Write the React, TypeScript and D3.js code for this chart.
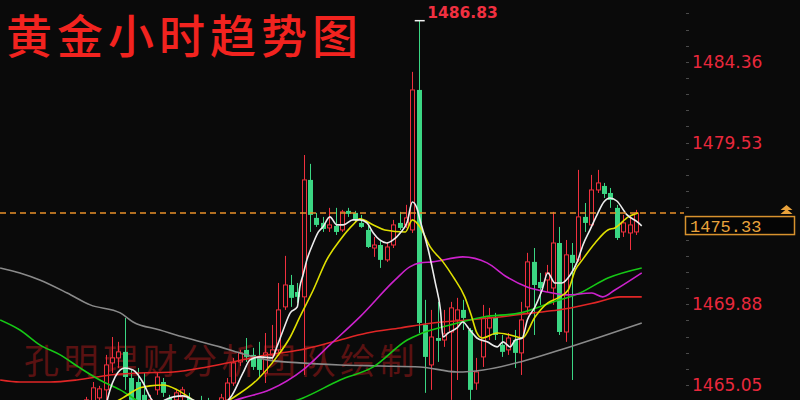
import React from 'react';
import * as d3 from 'd3';

const W = 800;
const H = 400;

const title = '黄金小时趋势图';
const watermark = '孔明理财分析团队绘制';
const axisTicks = [1484.36, 1479.53, 1469.88, 1465.05];
const lastPrice = 1475.33;
const highestPrice = 1486.83;
const highestIndex = 52;

const opens = [
  1463.56, 1463.86, 1464.28, 1464.76, 1466.37, 1466.67, 1467.03, 1465.47, 1465.23, 1464.46,
  1463.56, 1464.76, 1465.23, 1464.28, 1464.16, 1464.34, 1464.28, 1463.44, 1464.04, 1463.86,
  1463.26, 1463.68, 1464.16, 1465.17, 1466.43, 1467.15, 1466.85, 1466.73, 1465.77, 1466.85,
  1467.15, 1469.72, 1471.03, 1470.61, 1470.32, 1477.31, 1475.04, 1474.74, 1474.44, 1474.56,
  1474.32, 1475.46, 1475.34, 1474.74, 1474.32, 1473.24, 1473.42, 1472.53, 1473.42, 1474.74,
  1474.62, 1474.32, 1482.69, 1468.64, 1466.25, 1467.86, 1467.74, 1468.22, 1468.94, 1469.54,
  1468.34, 1465.17, 1466.73, 1468.46, 1469.06, 1467.45, 1467.15, 1467.74, 1466.97, 1469.72,
  1472.41, 1471.21, 1471.33, 1470.85, 1473.54, 1468.22, 1472.83, 1472.53, 1475.10, 1474.62,
  1476.71, 1476.95, 1476.53, 1475.64, 1474.20, 1474.14, 1474.20,
];
const closes = [
  1464.16, 1464.88, 1464.82, 1466.25, 1466.67, 1467.03, 1465.53, 1464.16, 1464.04, 1463.56,
  1464.16, 1465.53, 1464.58, 1463.68, 1464.58, 1464.76, 1463.68, 1463.92, 1463.56, 1463.26,
  1463.86, 1464.28, 1465.17, 1466.37, 1466.97, 1466.73, 1466.13, 1465.95, 1466.97, 1467.15,
  1469.54, 1471.03, 1470.26, 1470.32, 1477.31, 1475.22, 1474.62, 1474.38, 1474.62, 1474.20,
  1475.40, 1475.28, 1474.92, 1474.50, 1473.30, 1473.42, 1472.53, 1473.30, 1474.62, 1474.44,
  1475.04, 1482.69, 1468.76, 1466.73, 1467.92, 1467.69, 1468.10, 1469.66, 1469.54, 1469.06,
  1464.76, 1465.83, 1469.06, 1469.06, 1468.04, 1467.03, 1467.86, 1466.97, 1468.94, 1472.41,
  1471.03, 1470.85, 1471.75, 1473.54, 1468.22, 1472.83, 1472.35, 1475.10, 1474.74, 1476.71,
  1477.13, 1476.47, 1476.11, 1473.84, 1474.74, 1474.62, 1475.33,
];
const highs = [
  1464.34, 1465.23, 1465.00, 1466.85, 1467.92, 1467.63, 1469.06, 1465.95, 1466.07, 1465.77,
  1464.46, 1465.83, 1465.47, 1464.46, 1464.76, 1464.94, 1464.58, 1464.10, 1464.40, 1464.28,
  1464.10, 1464.52, 1465.47, 1466.67, 1467.15, 1467.86, 1467.27, 1467.63, 1468.16, 1468.64,
  1471.15, 1472.77, 1471.63, 1471.15, 1478.80, 1478.27, 1475.34, 1475.10, 1475.64, 1475.64,
  1475.52, 1475.64, 1475.46, 1475.22, 1474.62, 1473.90, 1473.72, 1473.60, 1474.92, 1475.40,
  1475.82, 1483.77, 1486.83, 1470.14, 1469.54, 1470.02, 1469.54, 1470.02, 1470.26, 1470.14,
  1468.46, 1466.67, 1469.84, 1469.66, 1469.36, 1468.04, 1468.16, 1468.34, 1470.02, 1472.95,
  1473.24, 1471.75, 1472.23, 1475.40, 1474.50, 1473.72, 1473.54, 1477.91, 1475.93, 1477.61,
  1477.91, 1477.13, 1476.83, 1475.82, 1475.22, 1475.22, 1475.52,
];
const lows = [
  1463.26, 1463.56, 1464.04, 1464.16, 1465.77, 1466.07, 1464.76, 1463.86, 1463.68, 1463.26,
  1463.26, 1464.46, 1464.34, 1463.44, 1463.86, 1464.04, 1463.44, 1463.20, 1463.32, 1462.96,
  1462.96, 1463.44, 1463.92, 1465.00, 1466.19, 1466.43, 1465.95, 1465.53, 1465.17, 1466.55,
  1466.85, 1469.54, 1469.72, 1469.96, 1465.65, 1474.20, 1474.50, 1474.20, 1474.20, 1474.02,
  1474.20, 1475.10, 1474.74, 1474.44, 1473.24, 1472.71, 1472.05, 1472.41, 1473.24, 1474.32,
  1474.44, 1474.14, 1468.16, 1464.58, 1464.76, 1466.43, 1467.33, 1464.16, 1465.35, 1468.34,
  1464.16, 1464.76, 1466.13, 1467.74, 1467.74, 1466.73, 1466.85, 1466.07, 1465.65, 1469.36,
  1468.04, 1469.84, 1470.61, 1469.84, 1468.04, 1467.63, 1465.35, 1472.41, 1474.20, 1474.44,
  1476.53, 1476.23, 1475.64, 1473.72, 1473.90, 1473.12, 1474.02,
];

// moving averages: [bar index, price]
const ma5: [number, number][] = [
  [2.9, 1463.56], [3.7, 1464.76], [4.5, 1465.53], [5.3, 1465.95], [6.0, 1466.07], [7.3, 1465.95],
  [8.9, 1465.17], [9.95, 1464.34], [11.0, 1463.86], [12.3, 1464.16], [13.6, 1464.34], [15.1, 1464.40],
  [16.7, 1464.16], [19.3, 1463.56], [22.5, 1464.28], [24.5, 1465.77], [25.6, 1466.55], [27.2, 1466.73],
  [29.1, 1466.67], [29.8, 1467.33], [30.8, 1468.34], [31.9, 1469.36], [33.0, 1469.72], [33.4, 1470.91],
  [33.9, 1471.63], [34.5, 1472.53], [35.5, 1473.54], [36.3, 1474.20], [37.0, 1474.50], [38.1, 1475.10],
  [39.2, 1474.62], [40.2, 1474.62], [41.7, 1474.92], [42.8, 1474.92], [43.9, 1474.74], [44.9, 1474.14],
  [45.9, 1473.72], [47.0, 1473.54], [48.0, 1473.72], [49.1, 1474.14], [50.2, 1474.80], [51.0, 1475.99],
  [51.7, 1475.64], [52.2, 1474.92], [53.5, 1473.12], [54.6, 1471.15], [55.4, 1469.54], [55.8, 1467.92],
  [56.6, 1468.16], [58.0, 1468.46], [58.9, 1468.82], [60.0, 1468.34], [61.1, 1467.86], [62.7, 1467.63],
  [64.3, 1467.33], [65.2, 1467.63], [66.3, 1467.33], [67.1, 1467.74], [68.2, 1467.86], [69.0, 1468.94],
  [70.2, 1469.72], [71.3, 1470.73], [72.2, 1471.75], [73.3, 1471.15], [74.4, 1471.15], [75.7, 1471.63],
  [76.8, 1472.41], [77.7, 1473.42], [78.8, 1474.32], [79.9, 1475.22], [81.0, 1476.00], [81.9, 1476.23],
  [83.0, 1476.05], [84.6, 1475.22], [86.2, 1474.80], [86.9, 1474.56],
];
const ma10: [number, number][] = [
  [3.7, 1463.86], [5.7, 1464.28], [8.4, 1464.88], [9.95, 1465.00], [12.0, 1465.05], [14.2, 1464.76],
  [16.2, 1464.28], [19.3, 1463.56], [22.9, 1464.28], [26.7, 1465.35], [29.8, 1466.73], [31.9, 1467.92],
  [33.4, 1469.12], [35.5, 1470.73], [37.6, 1472.53], [39.7, 1473.72], [41.7, 1474.62], [42.8, 1474.98],
  [44.9, 1474.62], [46.7, 1474.32], [49.9, 1474.20], [51.0, 1474.92], [52.2, 1474.50], [53.8, 1473.31],
  [55.8, 1472.41], [57.4, 1471.51], [59.2, 1470.32], [60.3, 1469.12], [61.1, 1468.16], [61.9, 1467.86],
  [64.3, 1468.16], [66.3, 1468.04], [68.2, 1467.86], [70.2, 1469.12], [72.2, 1469.96], [73.8, 1470.26],
  [75.4, 1470.73], [76.5, 1471.93], [77.6, 1472.53], [79.6, 1473.54], [81.6, 1474.32], [82.7, 1474.44],
  [84.8, 1475.10], [86.3, 1475.34],
];
const ma20: [number, number][] = [
  [17.8, 1463.44], [24.5, 1464.28], [28.7, 1464.76], [33.9, 1465.95], [38.1, 1467.45], [42.8, 1469.12],
  [48.3, 1471.33], [50.6, 1472.11], [52.2, 1472.35], [54.2, 1472.41], [58.9, 1472.71], [62.7, 1472.35],
  [65.8, 1471.51], [68.96, 1470.91], [72.1, 1470.61], [75.2, 1470.44], [79.1, 1470.55], [80.8, 1470.32],
  [82.7, 1470.73], [86.9, 1471.75],
];
const ma30: [number, number][] = [
  [-13.5, 1468.94], [-10.4, 1468.34], [-7.3, 1467.45], [-4.1, 1466.85], [-1.0, 1466.07], [2.1, 1465.35],
  [5.3, 1464.76], [8.4, 1464.04], [14.6, 1463.56], [20.9, 1463.38], [27.2, 1463.56], [33.9, 1464.28],
  [39.7, 1465.35], [44.9, 1466.13], [50.2, 1467.74], [52.2, 1468.10], [56.9, 1468.64], [62.1, 1469.12],
  [67.9, 1469.36], [72.6, 1469.96], [77.2, 1470.55], [81.6, 1471.45], [86.9, 1472.05],
];
const ma60: [number, number][] = [
  [-13.5, 1465.35], [-10.4, 1465.23], [-5.7, 1465.23], [-1.5, 1465.35], [3.7, 1465.65], [8.4, 1465.77],
  [13.6, 1465.83], [18.9, 1466.13], [22.9, 1466.43], [28.3, 1466.85], [33.4, 1467.14], [38.6, 1467.63],
  [43.9, 1468.16], [49.1, 1468.46], [54.2, 1468.76], [59.6, 1468.94], [64.7, 1469.12], [69.9, 1469.36],
  [73.8, 1469.53], [80.1, 1470.02], [83.5, 1470.32], [86.9, 1470.32],
];
const ma120: [number, number][] = [
  [-13.5, 1472.05], [-10.4, 1471.75], [-7.3, 1471.33], [-3.0, 1470.55], [0.6, 1469.84], [5.3, 1469.36],
  [7.3, 1468.82], [11.5, 1468.34], [15.7, 1467.86], [20.9, 1467.33], [24.0, 1466.97], [28.3, 1466.55],
  [33.4, 1466.37], [39.7, 1466.25], [46.0, 1466.19], [52.2, 1466.13], [58.0, 1465.83], [62.1, 1465.95],
  [67.9, 1466.43], [74.1, 1467.14], [80.4, 1467.92], [86.9, 1468.76],
];

const BG = '#0a0a0a';
const UP = '#f0303e';
const DOWN = '#3bd683';

export default function App() {
  const x = d3.scaleLinear().domain([0, opens.length - 1]).range([86.4, 636]);
  const y = d3.scaleLinear().domain([1465.05, 1484.36]).range([385, 62]);
  const line = d3
    .line<[number, number]>()
    .x((d) => x(d[0]))
    .y((d) => y(d[1]))
    .curve(d3.curveMonotoneX);

  const minorStep = (axisTicks[0] - axisTicks[1]) / 5;
  const minorTicks = d3.range(-3, 27).map((k) => axisTicks[axisTicks.length - 1] + k * minorStep);

  const mas: { data: [number, number][]; color: string }[] = [
    { data: ma120, color: '#8a8a8a' },
    { data: ma60, color: '#e02626' },
    { data: ma30, color: '#16c816' },
    { data: ma20, color: '#cc22cc' },
    { data: ma10, color: '#e0e000' },
    { data: ma5, color: '#ececec' },
  ];

  const ly = y(lastPrice);

  return (
    <svg
      width={W}
      height={H}
      style={{ position: 'absolute', left: 0, top: 0, display: 'block' }}
      xmlns="http://www.w3.org/2000/svg"
    >
      <defs>
        <clipPath id="plot">
          <rect x={0} y={0} width={684} height={H} />
        </clipPath>
      </defs>
      <rect x={0} y={0} width={W} height={H} fill={BG} />

      <text
        x={24}
        y={374}
        fill="#5a1212"
        fontSize={35}
        letterSpacing={4.5}
        fontFamily="'Noto Sans CJK SC', sans-serif"
      >
        {watermark}
      </text>

      <g clipPath="url(#plot)">
        {opens.map((o, i) => {
          const c = closes[i];
          const cx = Math.round(x(i));
          const up = c >= o;
          const top = y(Math.max(o, c));
          const bot = y(Math.min(o, c));
          const hh = Math.max(1, bot - top);
          if (up) {
            return (
              <g key={i}>
                <line x1={cx + 0.5} x2={cx + 0.5} y1={y(highs[i])} y2={top} stroke={UP} strokeWidth={1} />
                <line x1={cx + 0.5} x2={cx + 0.5} y1={top + hh} y2={y(lows[i])} stroke={UP} strokeWidth={1} />
                <rect x={cx - 1.5} y={top} width={4} height={hh} fill={BG} stroke={UP} strokeWidth={1} />
              </g>
            );
          }
          return (
            <g key={i}>
              <line x1={cx + 0.5} x2={cx + 0.5} y1={y(highs[i])} y2={y(lows[i])} stroke={DOWN} strokeWidth={1} />
              <rect x={cx - 2} y={top} width={5} height={hh} fill={DOWN} />
            </g>
          );
        })}

        {mas.map((m, k) => (
          <path key={k} d={line(m.data) || ''} fill="none" stroke={m.color} strokeWidth={1.6} />
        ))}

        <line x1={0} x2={684} y1={ly} y2={ly} stroke="#e8902a" strokeWidth={1.5} strokeDasharray="6,4" />
      </g>

      {/* highest marker */}
      <line
        x1={x(highestIndex) - 4}
        x2={x(highestIndex) + 6}
        y1={y(highestPrice)}
        y2={y(highestPrice)}
        stroke="#f0f0f0"
        strokeWidth={1.5}
      />
      <text
        x={x(highestIndex) + 8.5}
        y={y(highestPrice) - 3}
        fill="#f03040"
        fontSize={15.5}
        fontWeight="bold"
        fontFamily="'DejaVu Sans', sans-serif"
      >
        {highestPrice.toFixed(2)}
      </text>

      {/* right axis */}
      {minorTicks.map((t, k) => (
        <line key={k} x1={686} x2={689} y1={Math.round(y(t)) + 0.5} y2={Math.round(y(t)) + 0.5} stroke="#4a4a4a" strokeWidth={1} />
      ))}
      {axisTicks.map((t) => (
        <text
          key={t}
          x={692}
          y={y(t)}
          dy="0.36em"
          fill="#e8283c"
          fontSize={17}
          fontFamily="'DejaVu Sans', sans-serif"
        >
          {t.toFixed(2)}
        </text>
      ))}

      {/* current price box */}
      <rect x={685.5} y={ly + 3.5} width={109} height={18} fill="#050505" stroke="#d8922e" strokeWidth={1.5} />
      <text
        x={690}
        y={ly + 12.5}
        dy="0.36em"
        fill="#e8a23c"
        fontSize={17}
        fontFamily="'Liberation Mono', monospace"
      >
        {lastPrice.toFixed(2)}
      </text>
      <path
        d={`M${786.5},${ly - 8} L${792.5},${ly - 3} L${780.5},${ly - 3} Z M${786.5},${ly - 4} L${792.5},${ly + 1} L${780.5},${ly + 1} Z`}
        fill="#e8a23c"
      />

      <text
        x={6}
        y={36}
        dy="0.36em"
        fill="#f2231f"
        fontSize={46}
        letterSpacing={5}
        fontWeight={500}
        fontFamily="'Noto Sans CJK SC', sans-serif"
      >
        {title}
      </text>
    </svg>
  );
}
